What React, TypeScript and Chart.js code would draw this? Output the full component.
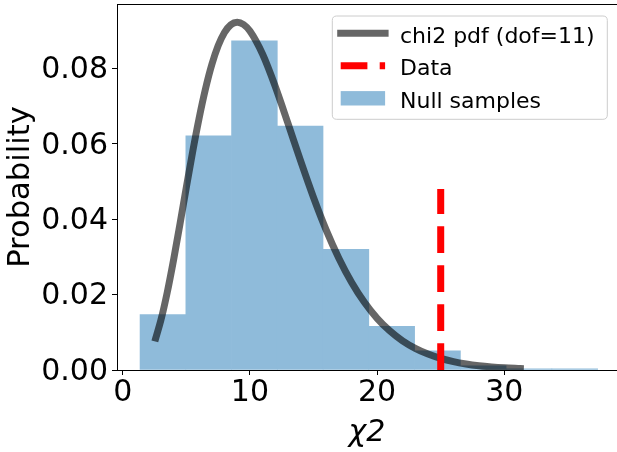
import React, { useEffect, useRef } from 'react';
import { Chart, registerables } from 'chart.js';

Chart.register(...registerables);
Chart.defaults.font.family = "'DejaVu Sans', sans-serif";

// Histogram of null samples (density)
const binEdges = [1.36, 4.96, 8.56, 12.15, 15.75, 19.35, 22.95, 26.55, 30.14, 33.74, 37.34];
const binDensity = [0.0147, 0.0621, 0.0873, 0.0647, 0.032, 0.0116, 0.0051, 0.0011, 0.0003, 0.0003];

// chi2 pdf curve (dof = 11)
const pdfX = [2.6, 3, 3.5, 4, 4.5, 5, 5.5, 6, 6.5, 7, 7.5, 8, 8.5, 9, 9.5, 10, 11, 12, 13, 14, 15, 16, 17, 18, 19, 20, 21, 22, 23, 24, 25, 26, 27, 28, 29, 30, 31.26];
const pdfY = [0.00848, 0.01321, 0.0206, 0.02925, 0.0387, 0.04843, 0.05793, 0.0667, 0.07447, 0.08096, 0.086, 0.08955, 0.09162, 0.09228, 0.09166, 0.08992, 0.08375, 0.07515, 0.06536, 0.05533, 0.04577, 0.03711, 0.02958, 0.0232, 0.01795, 0.01371, 0.01036, 0.00774, 0.00574, 0.00422, 0.00307, 0.00222, 0.0016, 0.00114, 0.00081, 0.00057, 0.00037];

// Observed data statistic
const dataX = 25.0;
const dataLineY = [0, 0.048];

// Axes
const xTicks = [0, 10, 20, 30];
const yTicks = [0, 0.02, 0.04, 0.06, 0.08];
const xRange = [-0.45, 38.86];
const yRange = [0, 0.0971];

const seriesLabels = ['chi2 pdf (dof=11)', 'Data', 'Null samples'];
const xTitle = 'χ2';
const yTitle = 'Probability';

const boxLegendPlugin = {
  id: 'boxLegend',
  afterDatasetsDraw(chart: any) {
    const { ctx, chartArea } = chart;
    // top spine
    ctx.save();
    ctx.strokeStyle = '#000';
    ctx.lineWidth = 1;
    ctx.beginPath();
    ctx.moveTo(chartArea.left, chartArea.top + 0.5);
    ctx.lineTo(chartArea.right, chartArea.top + 0.5);
    ctx.stroke();

    // legend box
    const right = chartArea.right - 9.7;
    const top = chartArea.top + 12;
    const w = 275;
    const h = 103.3;
    const left = right - w;
    const r = 4.4;
    ctx.beginPath();
    ctx.moveTo(left + r, top);
    ctx.lineTo(left + w - r, top);
    ctx.quadraticCurveTo(left + w, top, left + w, top + r);
    ctx.lineTo(left + w, top + h - r);
    ctx.quadraticCurveTo(left + w, top + h, left + w - r, top + h);
    ctx.lineTo(left + r, top + h);
    ctx.quadraticCurveTo(left, top + h, left, top + h - r);
    ctx.lineTo(left, top + r);
    ctx.quadraticCurveTo(left, top, left + r, top);
    ctx.closePath();
    ctx.fillStyle = 'rgba(255,255,255,0.8)';
    ctx.fill();
    ctx.strokeStyle = '#cccccc';
    ctx.lineWidth = 1;
    ctx.stroke();

    const datasets = chart.data.datasets;
    datasets.forEach((ds: any, i: number) => {
      const rowY = top + 17.3 + i * 32.5;
      const x0 = left + 8.4;
      const hl = 44.4;
      if (ds.type === 'bar') {
        ctx.fillStyle = ds.backgroundColor;
        ctx.fillRect(x0, rowY - 7.2, hl, 14.4);
      } else {
        ctx.save();
        ctx.strokeStyle = ds.borderColor;
        ctx.lineWidth = ds.borderWidth;
        ctx.lineCap = ds.borderDash ? 'butt' : (ds.borderCapStyle || 'butt');
        ctx.setLineDash(ds.borderDash || []);
        ctx.beginPath();
        ctx.moveTo(x0, rowY);
        ctx.lineTo(x0 + hl, rowY);
        ctx.stroke();
        ctx.restore();
      }
      ctx.fillStyle = '#000';
      ctx.font = "22px 'DejaVu Sans', sans-serif";
      ctx.textBaseline = 'alphabetic';
      ctx.textAlign = 'left';
      ctx.fillText(ds.label, left + 67.7, rowY + 9.3);
    });
    ctx.restore();
  },
};

export default function App() {
  const ref = useRef<HTMLCanvasElement>(null);

  useEffect(() => {
    const canvas = ref.current;
    if (!canvas) return;
    const histPoints = binDensity.map((y, i) => ({ x: (binEdges[i] + binEdges[i + 1]) / 2, y }));
    const pdfPoints = pdfX.map((x, i) => ({ x, y: pdfY[i] }));
    const dataPoints = dataLineY.map((y) => ({ x: dataX, y }));

    const chart = new Chart(canvas, {
      type: 'line',
      data: {
        datasets: [
          {
            type: 'line',
            label: seriesLabels[0],
            data: pdfPoints,
            borderColor: 'rgba(0,0,0,0.6)',
            borderWidth: 7,
            pointRadius: 0,
            cubicInterpolationMode: 'monotone',
            borderCapStyle: 'square',
            borderJoinStyle: 'round',
            fill: false,
            order: 1,
          },
          {
            type: 'line',
            label: seriesLabels[1],
            data: dataPoints,
            borderColor: '#ff0000',
            borderWidth: 7,
            borderDash: [26.7, 12.3],
            pointRadius: 0,
            fill: false,
            order: 0,
          },
          {
            type: 'bar',
            label: seriesLabels[2],
            data: histPoints,
            backgroundColor: 'rgb(143,187,218)',
            borderWidth: 0,
            barPercentage: 1,
            categoryPercentage: 1,
            order: 2,
          },
        ],
      } as any,
      options: {
        responsive: false,
        animation: false,
        devicePixelRatio: 1,
        events: [],
        layout: { padding: { top: 4, left: 0, right: 0, bottom: 0 } },
        plugins: { legend: { display: false }, tooltip: { enabled: false } },
        scales: {
          x: {
            type: 'linear',
            min: xRange[0],
            max: xRange[1],
            offset: false,
            afterFit: (s: any) => {
              s.height = 82;
              s.paddingLeft = 0;
              s.paddingRight = 0;
            },
            afterBuildTicks: (s: any) => {
              s.ticks = xTicks.map((v) => ({ value: v }));
            },
            grid: {
              display: true,
              drawOnChartArea: false,
              drawTicks: true,
              tickLength: 5,
              tickColor: '#000',
              tickWidth: 1,
              offset: false,
            },
            border: { display: true, color: '#000', width: 1 },
            ticks: {
              color: '#000',
              font: { size: 30 },
              padding: 0,
              maxRotation: 0,
              autoSkip: false,
              callback: (v: any) => String(v),
            },
            title: {
              display: true,
              text: xTitle,
              color: '#000',
              font: { size: 30, style: 'italic' },
              padding: { top: 0, bottom: 1 },
            },
          },
          y: {
            type: 'linear',
            min: yRange[0],
            max: yRange[1],
            afterFit: (s: any) => {
              s.width = 117;
              s.paddingTop = 0;
              s.paddingBottom = 0;
            },
            afterBuildTicks: (s: any) => {
              s.ticks = yTicks.map((v) => ({ value: v }));
            },
            grid: {
              display: true,
              drawOnChartArea: false,
              drawTicks: true,
              tickLength: 5,
              tickColor: '#000',
              tickWidth: 1,
            },
            border: { display: true, color: '#000', width: 1 },
            ticks: {
              color: '#000',
              font: { size: 30 },
              padding: 4,
              labelOffset: 2,
              autoSkip: false,
              callback: (v: any) => Number(v).toFixed(2),
            },
            title: {
              display: true,
              text: yTitle,
              color: '#000',
              font: { size: 30.6 },
              padding: { top: 3, bottom: 0 },
            },
          },
        },
      } as any,
      plugins: [boxLegendPlugin],
    });
    return () => chart.destroy();
  }, []);

  return (
    <div style={{ position: 'absolute', left: 0, top: 0, width: 617, height: 452 }}>
      <canvas ref={ref} width={617} height={452} style={{ display: 'block' }} />
    </div>
  );
}
